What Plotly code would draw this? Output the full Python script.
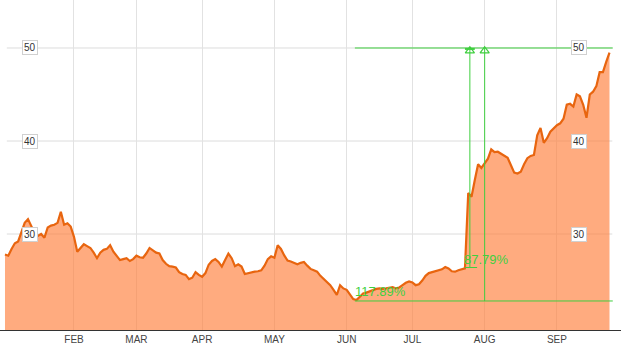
import plotly.graph_objects as go

# Daily closing prices (trading days, early Jan through late Sep)
prices = [
    27.8, 27.67, 28.4, 29.0, 29.2, 30.3, 31.2, 31.6, 30.8, 30.1,
    29.8, 30.0, 29.6, 30.7, 30.9, 31.0, 31.2, 32.4, 31.0, 31.15,
    30.8,
    29.7, 28.1, 28.5, 28.9, 28.7, 28.5, 28.0, 27.4, 28.0, 28.3,
    28.4, 28.8, 28.1, 27.6, 27.2, 27.3, 27.4, 27.1, 27.3,
    27.67, 27.5, 27.45, 27.9, 28.5, 28.2, 28.0, 27.9, 27.2, 26.8,
    26.55, 26.5, 26.4, 25.9, 25.7, 25.6, 25.15, 25.3, 25.9, 25.6,
    25.4, 25.8, 26.7, 27.1, 27.3, 27.0, 26.5, 27.2, 27.9, 27.4,
    26.55, 26.75, 26.5, 25.7, 25.8, 25.85, 25.95, 26.0, 26.1, 26.6,
    27.3, 27.6,
    27.45, 28.8, 28.4, 27.7, 27.15, 27.05, 26.9, 26.75, 26.9, 27.0,
    26.6, 26.25, 26.1, 25.95, 25.5, 25.2, 24.85, 24.5, 24.0, 23.45,
    24.5, 24.15,
    24.0, 23.45, 23.0, 22.9, 23.2, 23.6, 23.7, 23.85, 24.0, 24.1,
    24.15, 24.1, 24.15, 24.25, 24.3, 24.15, 24.25, 24.5, 24.75, 24.9,
    24.8, 24.5, 24.6, 25.0, 25.5, 25.8, 25.9, 26.0, 26.05, 26.2,
    26.45, 26.3, 26.0, 25.95, 26.1, 26.2, 26.3, 34.4, 34.0, 35.8,
    37.5, 37.1,
    37.6, 38.1, 39.1, 38.8, 38.85, 38.6, 38.4, 38.2, 37.4, 36.6,
    36.5, 36.7, 37.5, 38.15, 38.4, 38.5, 40.6, 41.4, 39.8, 40.3,
    41.0, 41.4,
    41.7, 41.9, 42.4, 43.9, 44.0, 43.7, 45.0, 44.8, 43.9, 42.5,
    45.0, 45.3, 45.9, 47.4, 47.4, 48.5, 49.5,
]
days = list(range(len(prices)))

# Month-start trading-day indices and labels
month_ticks = [21, 40, 60, 82, 104, 124, 146, 168]
month_labels = ["FEB", "MAR", "APR", "MAY", "JUN", "JUL", "AUG", "SEP"]

# Price gridlines / labels
price_ticks = [30, 40, 50]

# Measurement overlay
high_level = 50.0
low_level = 22.8
base_level = 26.4
low_idx = 106.5
jump_line_idx = 141.5
aug_line_idx = 146.0
end_idx = 185.0
pct_labels = ["117.89%", "87.79%"]

green = "#3fcf3f"

fig = go.Figure()
fig.add_trace(go.Scatter(
    x=days, y=prices, mode="lines",
    line=dict(color="#e8650f", width=2.2),
    fill="tozeroy", fillcolor="rgba(255,128,60,0.66)",
    hoverinfo="skip", showlegend=False,
))

# arrow heads (open triangles)
fig.add_trace(go.Scatter(
    x=[jump_line_idx, aug_line_idx], y=[high_level - 0.3, high_level - 0.3],
    mode="markers",
    marker=dict(symbol="triangle-up-open", size=8, color=green, line=dict(width=1.2, color=green)),
    hoverinfo="skip", showlegend=False,
))

shapes = []
for v in price_ticks:
    shapes.append(dict(type="line", xref="paper", yref="y", x0=0.011, x1=0.986, y0=v, y1=v,
                       line=dict(color="#dcdcdc", width=1), layer="below"))
gl = dict(color=green, width=1)
shapes += [
    dict(type="line", x0=low_idx, x1=end_idx, y0=high_level, y1=high_level, line=gl),
    dict(type="line", x0=low_idx, x1=end_idx, y0=low_level, y1=low_level, line=gl),
    dict(type="line", x0=jump_line_idx, x1=jump_line_idx, y0=base_level, y1=high_level, line=gl),
    dict(type="line", x0=aug_line_idx, x1=aug_line_idx, y0=low_level, y1=high_level, line=gl),
    dict(type="line", x0=jump_line_idx - 1.5, x1=jump_line_idx + 2.2, y0=base_level, y1=base_level, line=gl),
    dict(type="line", x0=jump_line_idx - 1.5, x1=jump_line_idx + 1.5, y0=high_level - 0.1, y1=high_level - 0.1,
         line=dict(color=green, width=2)),
]

annotations = []
for v in price_ticks:
    for px in (0.0354, 0.945):
        annotations.append(dict(
            x=px, xref="paper", y=v, yref="y", text=str(v), showarrow=False,
            font=dict(family="Arial, Liberation Sans", size=10, color="#333"),
            bgcolor="white", bordercolor="#d0d0d0", borderwidth=1, borderpad=1,
        ))
annotations.append(dict(x=(low_idx + jump_line_idx) / 2 - 9.8, y=low_level + 1.05, text=pct_labels[0],
                        showarrow=False, font=dict(family="Arial, Liberation Sans", size=13, color=green)))
annotations.append(dict(x=aug_line_idx + 0.5, y=base_level + 0.9, text=pct_labels[1],
                        showarrow=False, font=dict(family="Arial, Liberation Sans", size=13, color=green)))

fig.update_layout(
    width=631, height=346,
    margin=dict(l=0, r=10, t=0, b=16),
    paper_bgcolor="white", plot_bgcolor="white",
    shapes=shapes, annotations=annotations,
    xaxis=dict(
        range=[-1.52, 187.5], tickmode="array", tickvals=month_ticks, ticktext=month_labels,
        showgrid=True, gridcolor="#e2e2e2", gridwidth=1,
        showline=True, linecolor="#333", linewidth=1, ticks="",
        tickfont=dict(family="Arial, Liberation Sans", size=10, color="#444"),
        zeroline=False, fixedrange=True,
    ),
    yaxis=dict(
        range=[19.68, 55.16], showgrid=False, showticklabels=False, zeroline=False,
        fixedrange=True,
    ),
)

fig.write_html("out.html")
